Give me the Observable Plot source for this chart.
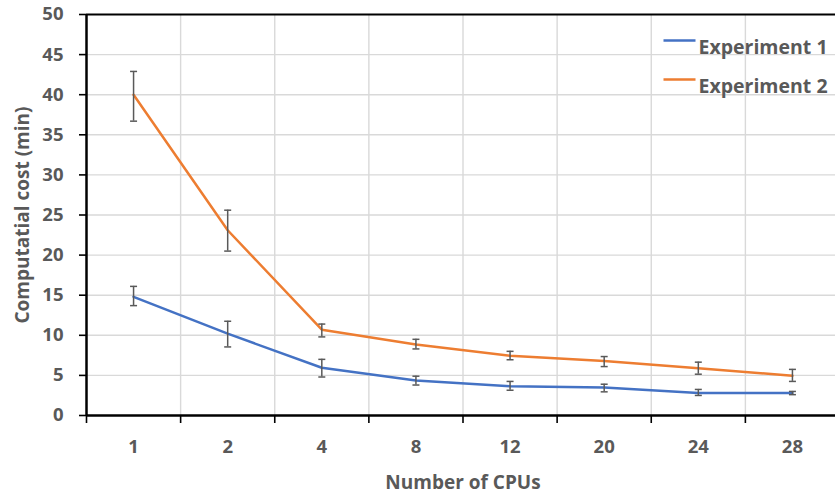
<!DOCTYPE html>
<html>
<head>
<meta charset="utf-8">
<script src="https://cdn.jsdelivr.net/npm/d3@7"></script>
<script src="https://cdn.jsdelivr.net/npm/@observablehq/plot@0.6"></script>
<style>
  html, body { margin: 0; padding: 0; background: #fff; }
  #chart svg { display: block; }
</style>
</head>
<body>
<div id="chart"></div>
<script>
// ---- data ----
const cpus = ["1", "2", "4", "8", "12", "20", "24", "28"];
const seriesNames = ["Experiment 1", "Experiment 2"];
const seriesColors = ["#4472C4", "#ED7D31"];
const exp1 = [14.8, 10.2, 5.95, 4.35, 3.65, 3.5, 2.8, 2.8];
const exp1Lo = [13.7, 8.55, 4.8, 3.8, 3.15, 2.95, 2.5, 2.6];
const exp1Hi = [16.1, 11.75, 7.0, 4.9, 4.25, 3.9, 3.25, 3.0];
const exp2 = [40.0, 23.1, 10.7, 8.85, 7.45, 6.8, 5.9, 4.95];
const exp2Lo = [36.7, 20.5, 9.8, 8.3, 6.95, 6.1, 5.15, 4.25];
const exp2Hi = [42.9, 25.6, 11.4, 9.5, 8.0, 7.35, 6.65, 5.75];
const yTicks = [0, 5, 10, 15, 20, 25, 30, 35, 40, 45, 50];
const xTitle = "Number of CPUs";
const yTitle = "Computatial cost (min)";

// ---- table built from the arrays ----
const values = [exp1, exp2], lows = [exp1Lo, exp2Lo], highs = [exp1Hi, exp2Hi];
const rows = [];
seriesNames.forEach((s, k) => {
  cpus.forEach((c, i) => {
    rows.push({series: s, cpu: c, pos: i + 0.5, value: values[k][i], lo: lows[k][i], hi: highs[k][i]});
  });
});
const n = cpus.length;
const centers = cpus.map((_, i) => i + 0.5);
const bounds = d3.range(0, n + 1);
const yMid = (yTicks[0] + yTicks[yTicks.length - 1]) / 2;

const capSymbol = {draw(ctx) { ctx.moveTo(-3.5, 0); ctx.lineTo(3.5, 0); }};
const swatchSymbol = {draw(ctx) { ctx.moveTo(-16, 0); ctx.lineTo(16, 0); }};

const gray = "#595959";
const legendMarks = [];
seriesNames.forEach((s, k) => {
  legendMarks.push(Plot.dot([s], {frameAnchor: "top-left", dx: 593, dy: 26 + k * 39, symbol: swatchSymbol, stroke: seriesColors[k], strokeWidth: 2.5, fill: "none"}));
  legendMarks.push(Plot.text([s], {frameAnchor: "top-left", dx: 612, dy: 26 + k * 39, text: d => d, textAnchor: "start", fill: gray, fontSize: 19.5, fontWeight: "bold"}));
});

const chart = Plot.plot({
  width: 835,
  height: 496,
  marginTop: 14,
  marginBottom: 81,
  marginLeft: 86,
  marginRight: 0,
  style: {fontFamily: "'Open Sans', sans-serif", background: "#fff", overflow: "visible"},
  x: {domain: [0, n], range: [86, 839]},
  y: {domain: [0, 50], range: [415, 14]},
  color: {domain: seriesNames, range: seriesColors},
  marks: [
    Plot.ruleY(yTicks.filter(t => t > 0 && t < 50), {stroke: "#d9d9d9", strokeWidth: 1.4}),
    Plot.ruleX(bounds.filter(b => b > 0), {stroke: "#d9d9d9", strokeWidth: 1.4}),
    Plot.ruleY([50], {stroke: "#000", strokeWidth: 2}),
    Plot.axisX({ticks: bounds, tickFormat: () => "", tickSize: 8, stroke: "#000", strokeWidth: 1.6, label: null}),
    Plot.axisX({ticks: centers, tickFormat: p => cpus[Math.floor(p)], tickSize: 0, tickPadding: 24, fontSize: 18.5, fontWeight: "bold", fill: gray, label: null}),
    Plot.axisY({ticks: yTicks, tickSize: 7, tickPadding: 16, stroke: "#000", strokeWidth: 1.6, fontSize: 18.5, fontWeight: "bold", fill: gray, label: null}),
    Plot.ruleX([0], {stroke: "#000", strokeWidth: 2.5}),
    Plot.ruleY([0], {stroke: "#000", strokeWidth: 2.5}),
    Plot.line(rows, {x: "pos", y: "value", z: "series", stroke: "series", strokeWidth: 2.5}),
    Plot.ruleX(rows, {x: "pos", y1: "lo", y2: "hi", stroke: gray, strokeWidth: 1.5}),
    Plot.dot(rows, {x: "pos", y: "lo", symbol: capSymbol, stroke: gray, strokeWidth: 1.5, fill: "none"}),
    Plot.dot(rows, {x: "pos", y: "hi", symbol: capSymbol, stroke: gray, strokeWidth: 1.5, fill: "none"}),
    ...legendMarks,
    Plot.text([xTitle], {x: () => n / 2, y: () => 0, dy: 67, text: d => d, fill: gray, fontSize: 19, fontWeight: "bold"}),
    Plot.text([yTitle], {x: () => 0, y: () => yMid, dx: -64, dy: 0, rotate: -90, text: d => d, fill: gray, fontSize: 19, fontWeight: "bold"})
  ]
});
document.getElementById("chart").appendChild(chart);
</script>
</body>
</html>
